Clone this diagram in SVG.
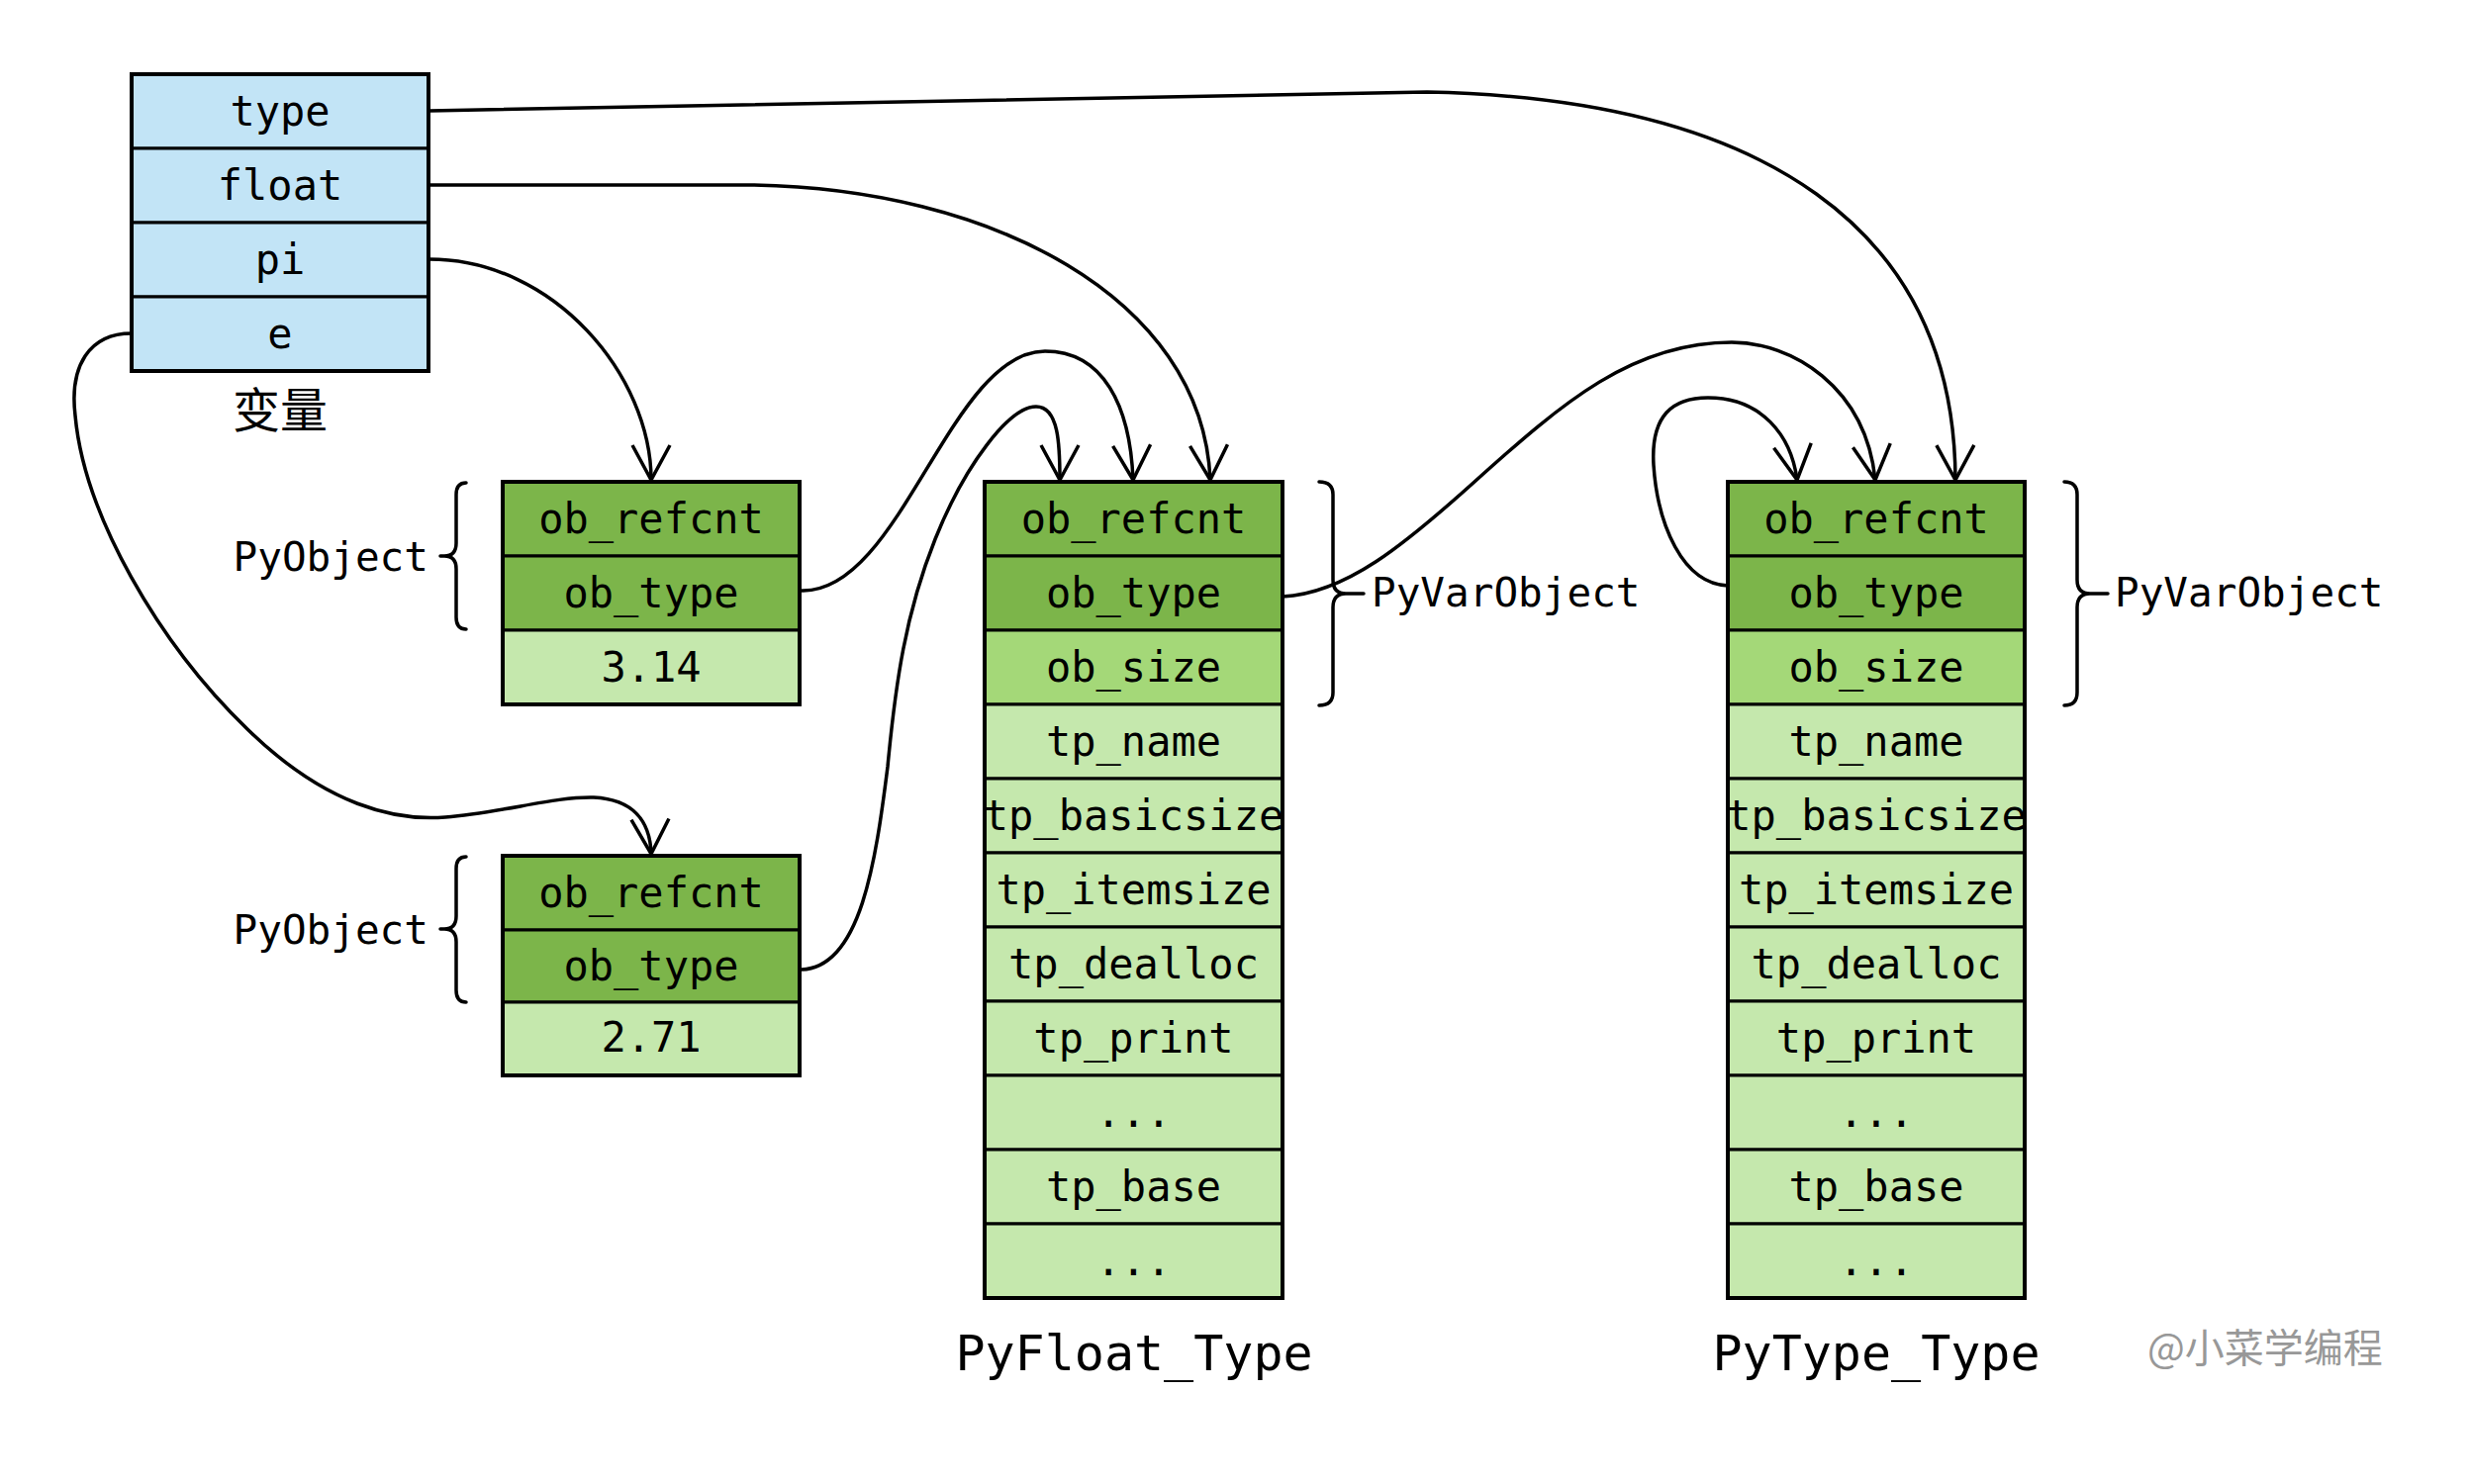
<svg xmlns="http://www.w3.org/2000/svg" width="2496" height="1500" viewBox="0 0 2496 1500">
<defs>
<style>
.mono{font-family:"DejaVu Sans Mono","Liberation Mono",monospace;font-size:42px;text-anchor:middle;fill:#000}
.lbl{font-family:"DejaVu Sans Mono","Liberation Mono",monospace;font-size:41px;fill:#000}
.title{font-family:"DejaVu Sans Mono","Liberation Mono",monospace;font-size:50px;text-anchor:middle;fill:#000}
.cjk{font-family:"Noto Sans CJK SC","Noto Sans",sans-serif;font-size:48px;text-anchor:middle;fill:#000}
.wm{font-family:"Noto Sans CJK SC","Noto Sans",sans-serif;font-size:40px;fill:#989898}
.blue{fill:#c2e4f6;stroke:#000;stroke-width:3}
.dk{fill:#7cb54a;stroke:#000;stroke-width:3}
.md{fill:#a4d878;stroke:#000;stroke-width:3}
.lt{fill:#c5e8ad;stroke:#000;stroke-width:3}
.frame{fill:none;stroke:#000;stroke-width:4}
.conn{fill:none;stroke:#000;stroke-width:3.5;marker-end:url(#arr)}
.brace{fill:none;stroke:#000;stroke-width:3.5;stroke-linecap:round}
</style>
<marker id="arr" markerUnits="userSpaceOnUse" markerWidth="60" markerHeight="60" viewBox="-40 -30 50 60" refX="0" refY="0" orient="auto" overflow="visible">
<path d="M-35,-19 L0,0 L-35,19" fill="none" stroke="#000" stroke-width="3.5"/>
</marker>
</defs>
<rect width="2496" height="1500" fill="#fff"/>

<g id="node-variables">
<rect class="blue" x="133" y="75" width="300" height="75"/>
<rect class="blue" x="133" y="150" width="300" height="75"/>
<rect class="blue" x="133" y="225" width="300" height="75"/>
<rect class="blue" x="133" y="300" width="300" height="75"/>
<rect class="frame" x="133" y="75" width="300" height="300"/>
<text class="mono" x="283" y="126.5">type</text>
<text class="mono" x="283" y="201.5">float</text>
<text class="mono" x="283" y="276.5">pi</text>
<text class="mono" x="283" y="351.5">e</text>
<text class="cjk" x="283" y="432">变量</text>
</g>

<g id="node-pyobject-pi">
<rect class="dk" x="508" y="487" width="300" height="75"/>
<rect class="dk" x="508" y="562" width="300" height="75"/>
<rect class="lt" x="508" y="637" width="300" height="75"/>
<rect class="frame" x="508" y="487" width="300" height="225"/>
<text class="mono" x="658" y="538.5">ob_refcnt</text>
<text class="mono" x="658" y="613.5">ob_type</text>
<text class="mono" x="658" y="688.5">3.14</text>
<path class="brace" d="M471,488 Q461,488 461,500 L461,549 Q461,562 449,562 L445,562 M449,562 Q461,562 461,575 L461,624 Q461,636 471,636"/>
<text class="lbl" x="433" y="577" text-anchor="end">PyObject</text>
</g>

<g id="node-pyobject-e">
<rect class="dk" x="508" y="865" width="300" height="75"/>
<rect class="dk" x="508" y="940" width="300" height="73"/>
<rect class="lt" x="508" y="1013" width="300" height="74"/>
<rect class="frame" x="508" y="865" width="300" height="222"/>
<text class="mono" x="658" y="916.5">ob_refcnt</text>
<text class="mono" x="658" y="990.5">ob_type</text>
<text class="mono" x="658" y="1063">2.71</text>
<path class="brace" d="M471,866 Q461,866 461,878 L461,926 Q461,939 449,939 L445,939 M449,939 Q461,939 461,952 L461,1001 Q461,1013 471,1013"/>
<text class="lbl" x="433" y="954" text-anchor="end">PyObject</text>
</g>

<g id="node-pyfloat-type">
<rect class="dk" x="995" y="487" width="301" height="75"/>
<rect class="dk" x="995" y="562" width="301" height="75"/>
<rect class="md" x="995" y="637" width="301" height="75"/>
<rect class="lt" x="995" y="712" width="301" height="75"/>
<rect class="lt" x="995" y="787" width="301" height="75"/>
<rect class="lt" x="995" y="862" width="301" height="75"/>
<rect class="lt" x="995" y="937" width="301" height="75"/>
<rect class="lt" x="995" y="1012" width="301" height="75"/>
<rect class="lt" x="995" y="1087" width="301" height="75"/>
<rect class="lt" x="995" y="1162" width="301" height="75"/>
<rect class="lt" x="995" y="1237" width="301" height="75"/>
<rect class="frame" x="995" y="487" width="301" height="825"/>
<text class="mono" x="1145.5" y="538.5">ob_refcnt</text>
<text class="mono" x="1145.5" y="613.5">ob_type</text>
<text class="mono" x="1145.5" y="688.5">ob_size</text>
<text class="mono" x="1145.5" y="763.5">tp_name</text>
<text class="mono" x="1145.5" y="838.5">tp_basicsize</text>
<text class="mono" x="1145.5" y="913.5">tp_itemsize</text>
<text class="mono" x="1145.5" y="988.5">tp_dealloc</text>
<text class="mono" x="1145.5" y="1063.5">tp_print</text>
<text class="mono" x="1145.5" y="1138.5">...</text>
<text class="mono" x="1145.5" y="1213.5">tp_base</text>
<text class="mono" x="1145.5" y="1288.5">...</text>
<path class="brace" d="M1333,487 Q1347,487 1347,500 L1347,586 Q1347,600 1360,600 L1378,600 M1360,600 Q1347,600 1347,614 L1347,700 Q1347,713 1333,713"/>
<text class="lbl" x="1386" y="613">PyVarObject</text>
<text class="title" x="1146" y="1385">PyFloat_Type</text>
</g>

<g id="node-pytype-type">
<rect class="dk" x="1746" y="487" width="300" height="75"/>
<rect class="dk" x="1746" y="562" width="300" height="75"/>
<rect class="md" x="1746" y="637" width="300" height="75"/>
<rect class="lt" x="1746" y="712" width="300" height="75"/>
<rect class="lt" x="1746" y="787" width="300" height="75"/>
<rect class="lt" x="1746" y="862" width="300" height="75"/>
<rect class="lt" x="1746" y="937" width="300" height="75"/>
<rect class="lt" x="1746" y="1012" width="300" height="75"/>
<rect class="lt" x="1746" y="1087" width="300" height="75"/>
<rect class="lt" x="1746" y="1162" width="300" height="75"/>
<rect class="lt" x="1746" y="1237" width="300" height="75"/>
<rect class="frame" x="1746" y="487" width="300" height="825"/>
<text class="mono" x="1896" y="538.5">ob_refcnt</text>
<text class="mono" x="1896" y="613.5">ob_type</text>
<text class="mono" x="1896" y="688.5">ob_size</text>
<text class="mono" x="1896" y="763.5">tp_name</text>
<text class="mono" x="1896" y="838.5">tp_basicsize</text>
<text class="mono" x="1896" y="913.5">tp_itemsize</text>
<text class="mono" x="1896" y="988.5">tp_dealloc</text>
<text class="mono" x="1896" y="1063.5">tp_print</text>
<text class="mono" x="1896" y="1138.5">...</text>
<text class="mono" x="1896" y="1213.5">tp_base</text>
<text class="mono" x="1896" y="1288.5">...</text>
<path class="brace" d="M2086,487 Q2099,487 2099,500 L2099,586 Q2099,600 2112,600 L2130,600 M2112,600 Q2099,600 2099,614 L2099,700 Q2099,713 2086,713"/>
<text class="lbl" x="2137" y="613">PyVarObject</text>
<text class="title" x="1896" y="1385">PyType_Type</text>
</g>

<g id="connectors">
<path class="conn" d="M434,112 L1442,93 C1780,100 1975,230 1976,485"/>
<path class="conn" d="M434,187 L758,187 C1000,190 1215,300 1223,485"/>
<path class="conn" d="M434,262 C560,262 658,380 658,485"/>
<path class="conn" d="M133,337 C90,337 70,370 76,420 C85,520 160,650 250,737 C330,815 400,830 450,826 C510,821 560,805 600,806 C640,808 657,830 658,863"/>
<path class="conn" d="M810,597 C910,600 960,355 1056,355 C1115,355 1142,410 1145,485"/>
<path class="conn" d="M810,980 C870,978 885,870 897,775 C905,690 915,620 945,545 C975,470 1020,411 1047,411 C1070,411 1071,450 1071,485"/>
<path class="conn" d="M1296,603 C1360,600 1420,550 1490,487 C1580,406 1650,346 1750,346 C1810,346 1885,390 1895,485"/>
<path class="conn" d="M1746,592 C1700,590 1675,530 1671,470 C1668,420 1690,402 1726,402 C1780,402 1810,440 1816,485"/>
</g>

<text class="wm" x="2170" y="1377">@小菜学编程</text>
</svg>
